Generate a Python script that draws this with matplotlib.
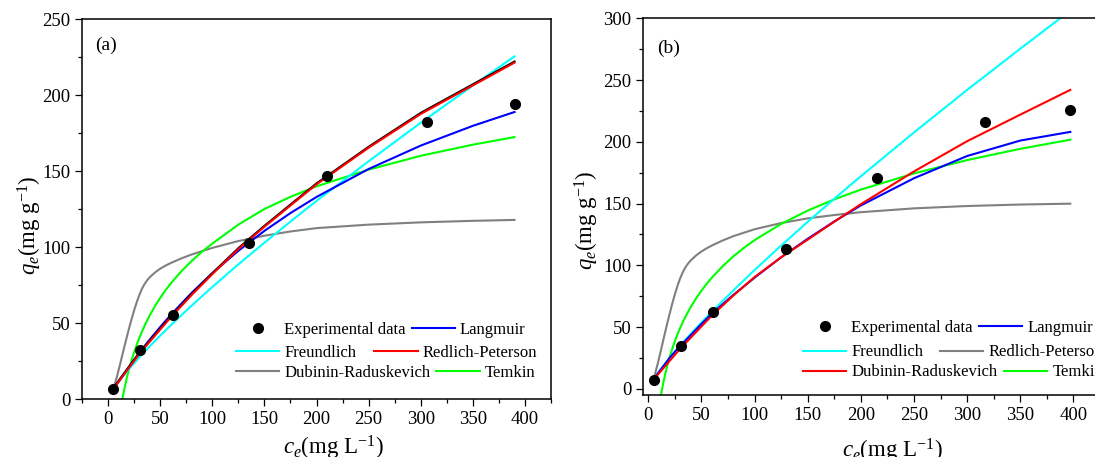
import matplotlib
matplotlib.use('Agg')
import matplotlib.pyplot as plt
from matplotlib.lines import Line2D
from matplotlib.legend import Legend
from matplotlib.ticker import MultipleLocator

plt.rcParams['font.family'] = 'Liberation Serif'
plt.rcParams['mathtext.fontset'] = 'custom'
plt.rcParams['mathtext.rm'] = 'Liberation Serif'
plt.rcParams['mathtext.it'] = 'Liberation Serif:italic'

# ---- panel (a) data ----
ce_a = [5, 31, 62, 135, 210, 306, 390]
qe_a = [6.6, 32.5, 55.5, 103, 147, 182.5, 194]

fit_x_a = [5, 8, 10, 13, 16, 20, 25, 30, 35, 40, 50, 60, 80, 100, 125, 150, 175, 200, 250, 300, 350, 390]
langmuir_a = [6.6, 9.6, 11.6, 14.6, 17.5, 21.3, 26.0, 30.6, 35.0, 39.3, 47.5, 55.4, 69.9, 83.0, 97.7,
              110.8, 122.5, 133.1, 151.5, 166.9, 179.9, 189.0]
freundlich_a = [6.3, 9.3, 11.2, 13.9, 16.5, 19.8, 23.7, 27.5, 31.2, 34.9, 41.9, 48.6, 61.5, 73.9, 88.8,
                103.0, 116.9, 130.5, 156.6, 181.9, 206.4, 225.6]
redlich_a = [6.6, 9.5, 11.4, 14.2, 17.0, 20.7, 25.3, 29.8, 33.9, 37.9, 45.9, 53.8, 68.5, 82.3, 98.8,
             113.5, 127.5, 141.4, 165.5, 187.7, 206.5, 221.5]
dark_a = [7.2, 10.1, 12.0, 14.8, 17.6, 21.3, 25.9, 30.4, 34.5, 38.5, 46.5, 54.4, 69.1, 82.9, 99.4,
          114.1, 128.1, 142.0, 166.1, 188.4, 207.2, 222.2]
dr_x_a = [5, 7, 9, 11, 13, 15, 17.5, 20, 22.5, 25, 27.5, 30, 32.5, 35, 37.5, 40, 45, 50, 55, 60, 70, 80,
          100, 125, 150, 175, 200, 250, 300, 350, 390]
dubinin_a = [6.6, 11.2, 16.2, 21.6, 27.2, 32.8, 39.7, 46.3, 52.6, 58.5, 63.9, 68.6, 72.7, 75.8, 78.3, 80.3,
             83.4, 85.9, 87.9, 89.6, 92.6, 95.2, 99.6, 104.1, 107.6, 110.4, 112.6, 114.9, 116.4, 117.4, 118.0]
temkin_x_a = [13.7, 14.5, 15.5, 17, 18.5, 20, 22, 24, 26, 28, 30, 33, 36, 40, 45, 50, 55, 60, 70, 80, 90,
              100, 125, 150, 175, 200, 250, 300, 350, 390]
temkin_a = [0, 2.9, 6.4, 11.1, 15.5, 19.5, 24.4, 28.9, 33.0, 36.8, 40.4, 45.3, 49.8, 55.2, 61.3, 66.7,
            71.6, 76.1, 84.0, 90.9, 97.0, 102.4, 114.9, 125.2, 133.2, 140.1, 151.1, 160.2, 167.5, 172.5]

# ---- panel (b) data ----
ce_b = [5, 31, 61, 130, 215, 317, 397]
qe_b = [7.5, 35, 62, 113.5, 171, 216, 225.5]

fit_x_b = [5, 8, 10, 13, 16, 20, 25, 30, 35, 40, 50, 60, 80, 100, 125, 150, 175, 200, 250, 300, 350, 397]
langmuir_b = [7.8, 11.3, 13.5, 17.0, 20.3, 25.0, 30.0, 34.5, 39.0, 43.5, 52.5, 61.0, 76.0, 90.0, 106.5,
              121.5, 135.5, 148.5, 170.5, 188.5, 201.0, 208.0]
freundlich_b = [7.8, 11.5, 13.9, 17.3, 20.6, 24.9, 30.0, 35.0, 39.8, 44.5, 53.7, 62.6, 79.7, 96.2, 116.0,
                135.2, 153.9, 172.1, 207.6, 242.0, 275.4, 306.2]
dubinin_b = [7.5, 10.6, 12.5, 15.5, 18.5, 22.5, 27.5, 32.5, 37.0, 41.5, 50.5, 59.5, 75.5, 90.5, 106.5,
             120.8, 135.3, 149.5, 176.0, 200.5, 222.0, 242.0]
rp_x_b = [5, 7, 9, 11, 13, 15, 17.5, 20, 22.5, 25, 27.5, 30, 32.5, 35, 37.5, 40, 45, 50, 55, 60, 70, 80,
          100, 125, 150, 175, 200, 250, 300, 350, 397]
redlich_b = [7.5, 14.2, 20.8, 28.0, 35.3, 42.8, 51.8, 60.5, 68.8, 76.5, 83.5, 89.5, 94.5, 98.5, 101.5, 104.0,
             108.0, 111.2, 113.8, 116.1, 120.1, 123.6, 129.2, 134.2, 138.0, 140.7, 143.0, 146.1, 148.0,
             149.2, 149.9]
temkin_x_b = [11.9, 12.5, 13, 14, 15, 16.5, 18, 20, 22, 24, 26, 28, 30, 33, 36, 40, 45, 50, 55, 60, 70, 80,
              90, 100, 125, 150, 175, 200, 250, 300, 350, 397]
temkin_b = [-5.2, -2.3, 0, 4.4, 8.4, 14.1, 19.2, 25.4, 31.0, 36.2, 40.9, 45.3, 49.3, 55.0, 60.1, 66.3, 73.3,
            79.5, 85.1, 90.2, 99.3, 107.2, 114.2, 120.4, 133.5, 144.3, 153.4, 161.3, 174.4, 185.2, 194.3,
            201.7]

labels_row1 = ['Experimental data', 'Langmuir']
labels_row2 = ['Freundlich', 'Redlich-Peterson']
labels_row3 = ['Dubinin-Raduskevich', 'Temkin']

lw = 1.5
fig = plt.figure(figsize=(10.95, 4.57), dpi=100)
ax_a = fig.add_axes([0.0749, 0.1263, 0.4283, 0.8315])
ax_b = fig.add_axes([0.5872, 0.1357, 0.4174, 0.8243])


def handle(color):
    return Line2D([], [], color=color, lw=lw)


dot = Line2D([], [], ls='none', marker='o', color='k', ms=7)


def style(ax, xlim, ylim):
    ax.set_xlim(*xlim)
    ax.set_ylim(*ylim)
    ax.xaxis.set_major_locator(MultipleLocator(50))
    ax.xaxis.set_minor_locator(MultipleLocator(25))
    ax.yaxis.set_major_locator(MultipleLocator(50))
    ax.yaxis.set_minor_locator(MultipleLocator(25))
    ax.tick_params(which='both', direction='out', top=False, right=False, labelsize=13.5, width=0.9)
    ax.tick_params(which='major', length=5)
    ax.tick_params(which='minor', length=3)
    for s in ax.spines.values():
        s.set_linewidth(1.1)
    ax.set_xlabel(r'$c_e$(mg L$^{-1}$)', fontsize=16.5)
    ax.set_ylabel(r'$q_e$(mg g$^{-1}$)', fontsize=16.5)


def row_legends(ax, rows, x0, ys, spacings):
    # one legend per row, like the original's free-form legend block
    for (hs, labs), y, sp in zip(rows, ys, spacings):
        leg = Legend(ax, hs, labs, ncol=2, loc='center left', bbox_to_anchor=(x0, y),
                     frameon=False, fontsize=12, handlelength=2.6, handletextpad=0.3,
                     columnspacing=sp, borderpad=0, borderaxespad=0)
        ax.add_artist(leg)


# panel (a)
ax_a.plot(dr_x_a, dubinin_a, color='#808080', lw=lw)
ax_a.plot(temkin_x_a, temkin_a, color='#00ff00', lw=lw)
ax_a.plot(fit_x_a, freundlich_a, color='#00ffff', lw=lw)
ax_a.plot(fit_x_a, langmuir_a, color='#0000ff', lw=lw)
ax_a.plot(fit_x_a, dark_a, color='black', lw=lw)
ax_a.plot(fit_x_a, redlich_a, color='#ff0000', lw=lw)
ax_a.plot(ce_a, qe_a, 'o', color='black', ms=7)
style(ax_a, (-25, 425), (0, 250))
ax_a.text(0.028, 0.932, '(a)', transform=ax_a.transAxes, fontsize=14, va='center')
ax_a.xaxis.set_label_coords(0.535, -0.092)
ax_a.yaxis.set_label_coords(-0.080, 0.459)
row_legends(ax_a,
            [([dot, handle('#0000ff')], labels_row1),
             ([handle('#00ffff'), handle('#ff0000')], labels_row2),
             ([handle('#808080'), handle('#00ff00')], labels_row3)],
            0.328, [0.182, 0.123, 0.069], [0.36, 1.08, 0.36])

# panel (b)
ax_b.plot(rp_x_b, redlich_b, color='#808080', lw=lw)
ax_b.plot(temkin_x_b, temkin_b, color='#00ff00', lw=lw)
ax_b.plot(fit_x_b, freundlich_b, color='#00ffff', lw=lw)
ax_b.plot(fit_x_b, langmuir_b, color='#0000ff', lw=lw)
ax_b.plot(fit_x_b, dubinin_b, color='#ff0000', lw=lw)
ax_b.plot(ce_b, qe_b, 'o', color='black', ms=7)
style(ax_b, (-5, 425), (-5, 300))
ax_b.text(0.030, 0.919, '(b)', transform=ax_b.transAxes, fontsize=14, va='center')
ax_b.xaxis.set_label_coords(0.545, -0.112)
ax_b.yaxis.set_label_coords(-0.092, 0.465)
row_legends(ax_b,
            [([dot, handle('#0000ff')], labels_row1),
             ([handle('#00ffff'), handle('#808080')], labels_row2),
             ([handle('#ff0000'), handle('#00ff00')], labels_row3)],
            0.350, [0.177, 0.113, 0.060], [0.36, 1.0, 0.4])

fig.savefig('out.png', dpi=100)
